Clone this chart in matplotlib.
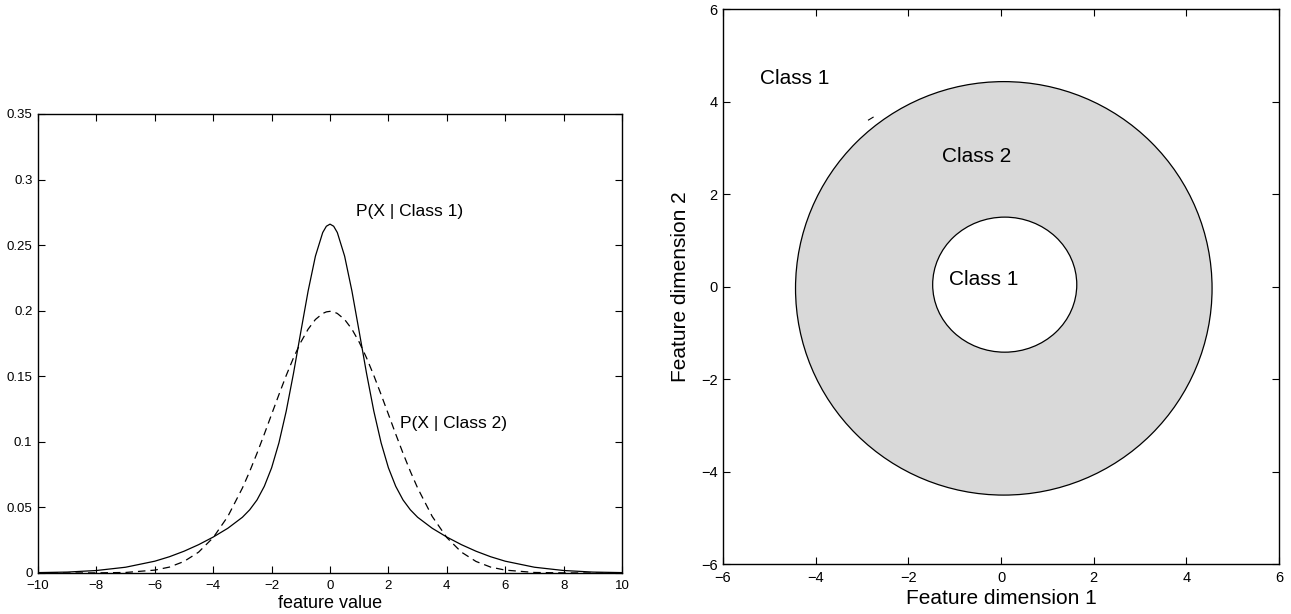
import matplotlib
matplotlib.use("Agg")
import matplotlib.pyplot as plt
from matplotlib.patches import Ellipse

plt.rcParams['font.family'] = ['Liberation Sans', 'DejaVu Sans']

# ---- left panel data: class-conditional densities ----
x_half = [0, 0.125, 0.25, 0.5, 0.75, 1, 1.25, 1.5, 1.75, 2, 2.25, 2.5, 2.75, 3,
          3.5, 4, 4.5, 5, 5.5, 6, 7, 8, 9, 10]
p_class1_half = [0.2660, 0.2644, 0.2596, 0.2416, 0.2150, 0.1839, 0.1523, 0.1234,
                 0.0992, 0.0802, 0.0661, 0.0557, 0.0482, 0.0425, 0.0341, 0.0274,
                 0.0216, 0.0166, 0.0124, 0.0090, 0.0044, 0.0019, 0.0007, 0.0003]
p_class2_half = [0.1995, 0.1991, 0.1979, 0.1933, 0.1859, 0.1760, 0.1641, 0.1506,
                 0.1360, 0.1210, 0.1059, 0.0913, 0.0775, 0.0648, 0.0431, 0.0270,
                 0.0159, 0.0088, 0.0045, 0.0022, 0.0004, 0.0001, 0.0, 0.0]

feature_x = [-v for v in x_half[:0:-1]] + x_half
p_class1 = p_class1_half[:0:-1] + p_class1_half
p_class2 = p_class2_half[:0:-1] + p_class2_half

left_xticks = [-10, -8, -6, -4, -2, 0, 2, 4, 6, 8, 10]
left_yticks = [0, 0.05, 0.1, 0.15, 0.2, 0.25, 0.3, 0.35]
left_ytick_labels = ["0", "0.05", "0.1", "0.15", "0.2", "0.25", "0.3", "0.35"]

# ---- right panel data: decision regions ----
outer_center = (0.06, -0.04)
outer_size = (8.99, 8.94)
inner_center = (0.08, 0.04)
inner_size = (3.11, 2.92)
artifact_x = [-2.86, -2.76]
artifact_y = [3.60, 3.66]
right_ticks = [-6, -4, -2, 0, 2, 4, 6]

fig = plt.figure(figsize=(12.91, 6.14), dpi=100)

# Left axes
ax1 = fig.add_axes([0.02943, 0.06678, 0.4524, 0.7476])
ax1.plot(feature_x, p_class1, color='black', lw=0.9)
ax1.plot(feature_x, p_class2, color='black', lw=0.9, linestyle=(0, (6, 4)))
ax1.set_xlim(-10, 10)
ax1.set_ylim(0, 0.35)
ax1.set_xticks(left_xticks)
ax1.set_yticks(left_yticks)
ax1.set_yticklabels(left_ytick_labels)
ax1.tick_params(direction='in', top=True, right=True, length=5, width=0.8,
                labelsize=9.5)
ax1.tick_params(axis='x', pad=5)
ax1.tick_params(axis='y', pad=4)
ax1.set_xlabel('feature value', fontsize=13, labelpad=2)
ax1.text(0.89, 0.276, 'P(X | Class 1)', fontsize=12.5, va='center', ha='left')
ax1.text(2.40, 0.114, 'P(X | Class 2)', fontsize=12.5, va='center', ha='left')
for s in ax1.spines.values():
    s.set_linewidth(1.0)

# Right axes
ax2 = fig.add_axes([0.56004, 0.08143, 0.43068, 0.90391])
ax2.add_patch(Ellipse(outer_center, outer_size[0], outer_size[1],
                      facecolor='#d9d9d9', edgecolor='black', lw=0.9))
ax2.add_patch(Ellipse(inner_center, inner_size[0], inner_size[1],
                      facecolor='white', edgecolor='black', lw=0.9))
ax2.plot(artifact_x, artifact_y, color='black', lw=0.8)
ax2.set_xlim(-6, 6)
ax2.set_ylim(-6, 6)
ax2.set_xticks(right_ticks)
ax2.set_yticks(right_ticks)
ax2.tick_params(direction='in', top=True, right=True, length=5, width=0.8,
                labelsize=10.5)
ax2.tick_params(axis='x', pad=5)
ax2.tick_params(axis='y', pad=4)
ax2.set_xlabel('Feature dimension 1', fontsize=15, labelpad=3)
ax2.set_ylabel('Feature dimension 2', fontsize=15, labelpad=8)
ax2.text(-5.2, 4.49, 'Class 1', fontsize=15, va='center', ha='left')
ax2.text(-1.27, 2.82, 'Class 2', fontsize=15, va='center', ha='left')
ax2.text(-1.12, 0.16, 'Class 1', fontsize=15, va='center', ha='left')
for s in ax2.spines.values():
    s.set_linewidth(1.0)

fig.savefig('out.png', dpi=100)
